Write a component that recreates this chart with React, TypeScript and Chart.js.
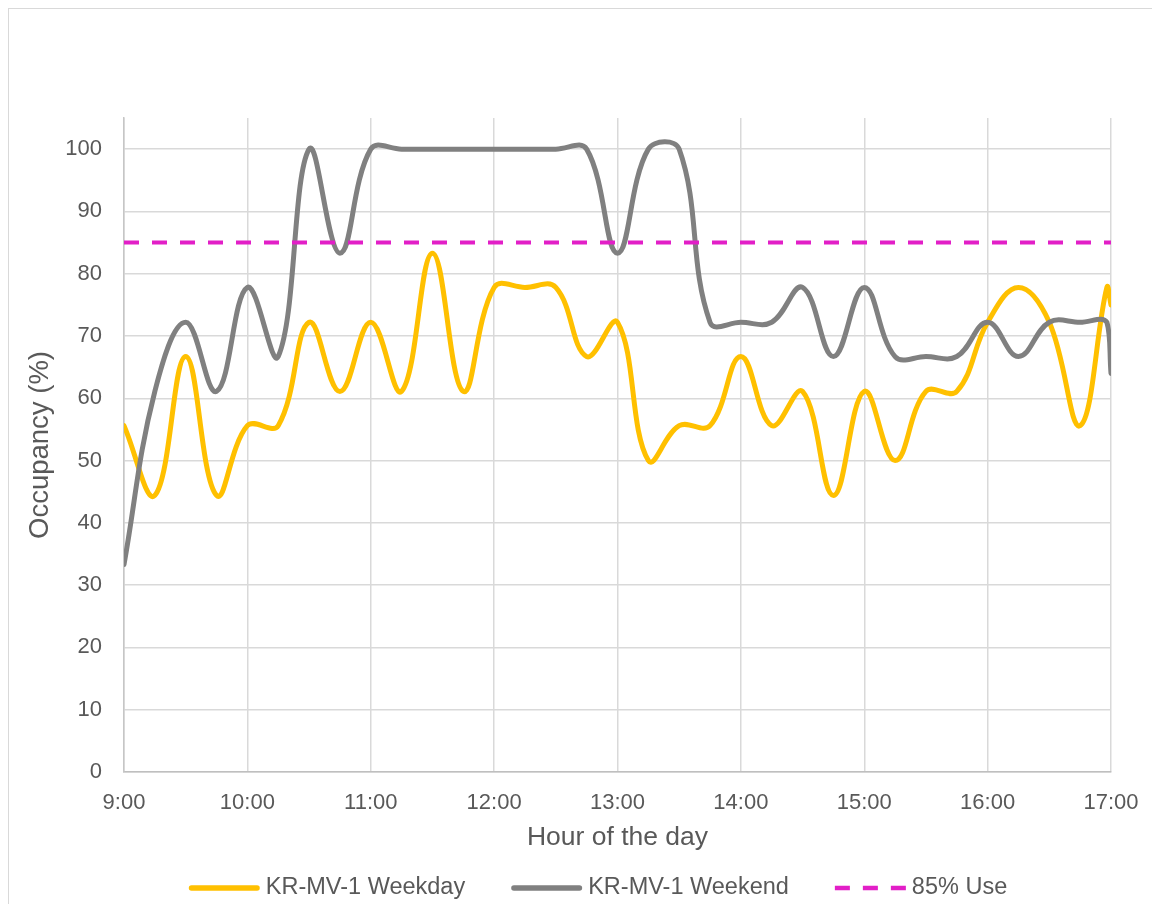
import React, { useEffect, useRef } from 'react';
import { Chart, registerables } from 'chart.js';

Chart.register(...registerables);

// ---- data ----
const TIMES = [
  '9:00', '9:15', '9:30', '9:45', '10:00', '10:15', '10:30', '10:45',
  '11:00', '11:15', '11:30', '11:45', '12:00', '12:15', '12:30', '12:45',
  '13:00', '13:15', '13:30', '13:45', '14:00', '14:15', '14:30', '14:45',
  '15:00', '15:15', '15:30', '15:45', '16:00', '16:15', '16:30', '16:45',
  '16:58', '17:00',
];
const WEEKDAY = [
  55.6, 44.4, 66.7, 44.4, 55.6, 55.6, 72.2, 61.1,
  72.2, 61.1, 83.3, 61.1, 77.8, 77.8, 77.8, 66.7,
  72.2, 50.0, 55.6, 55.6, 66.7, 55.6, 61.1, 44.4,
  61.1, 50.0, 61.1, 61.1, 72.2, 77.8, 72.2, 55.6,
  77.8, 75.0,
];
const WEEKEND = [
  33.3, 61.1, 72.2, 61.1, 77.8, 66.7, 100, 83.3,
  100, 100, 100, 100, 100, 100, 100, 100,
  83.3, 100, 100, 72.2, 72.2, 72.2, 77.8, 66.7,
  77.8, 66.7, 66.7, 66.7, 72.2, 66.7, 72.2, 72.2,
  72.2, 64.0,
];
const THRESHOLD_TIMES = ['9:00', '17:00'];
const THRESHOLD = [85, 85];
const X_TICK_LABELS = ['9:00', '10:00', '11:00', '12:00', '13:00', '14:00', '15:00', '16:00', '17:00'];
const SERIES_LABELS = ['KR-MV-1 Weekday', 'KR-MV-1 Weekend', '85% Use'];
const X_TITLE = 'Hour of the day';
const Y_TITLE = 'Occupancy (%)';

const toHours = (t: string) => {
  const [h, m] = t.split(':').map(Number);
  return h + m / 60;
};

const FONT = '"Liberation Sans", Arial, Helvetica, sans-serif';
const TEXT = '#595959';
const GRID = '#d9d9d9';

const legendPlugin = {
  id: 'customLegend',
  afterDraw(chart: any) {
    const ctx = chart.ctx as CanvasRenderingContext2D;
    const fontSize = 23.5;
    const lineLen = 71;
    const gap = 6;
    const spacing = 46;
    const cy = 888;
    ctx.save();
    ctx.font = `${fontSize}px ${FONT}`;
    const items = chart.data.datasets.map((ds: any) => ({
      label: ds.label as string,
      color: ds.borderColor as string,
      dash: (ds.borderDash || []) as number[],
      width: ds.legendWidth as number,
      tw: ctx.measureText(ds.label).width,
    }));
    const total = items.reduce((s: number, it: any) => s + lineLen + gap + it.tw, 0) + spacing * (items.length - 1);
    let x = 598 - total / 2;
    for (const it of items) {
      ctx.beginPath();
      ctx.strokeStyle = it.color;
      ctx.lineWidth = it.width;
      if (it.dash.length) {
        ctx.setLineDash(it.dash);
        ctx.lineCap = 'butt';
        ctx.moveTo(x, cy);
        ctx.lineTo(x + lineLen, cy);
      } else {
        ctx.setLineDash([]);
        ctx.lineCap = 'round';
        ctx.moveTo(x + it.width / 2, cy);
        ctx.lineTo(x + lineLen - it.width / 2, cy);
      }
      ctx.stroke();
      ctx.setLineDash([]);
      ctx.fillStyle = TEXT;
      ctx.textAlign = 'left';
      ctx.textBaseline = 'middle';
      ctx.fillText(it.label, x + lineLen + gap, cy);
      x += lineLen + gap + it.tw + spacing;
    }
    ctx.restore();
  },
};

export default function App() {
  const canvasRef = useRef<HTMLCanvasElement | null>(null);

  useEffect(() => {
    const canvas = canvasRef.current;
    if (!canvas) return;
    const weekdayPts = TIMES.map((t, i) => ({ x: toHours(t), y: WEEKDAY[i] }));
    const weekendPts = TIMES.map((t, i) => ({ x: toHours(t), y: WEEKEND[i] }));
    const thresholdPts = THRESHOLD_TIMES.map((t, i) => ({ x: toHours(t), y: THRESHOLD[i] }));

    const chart = new Chart(canvas, {
      type: 'line',
      data: {
        datasets: [
          {
            label: SERIES_LABELS[0],
            data: weekdayPts,
            borderColor: '#FFC000',
            backgroundColor: '#FFC000',
            borderWidth: 5,
            tension: 0.4,
            pointRadius: 0,
            borderCapStyle: 'round',
            borderJoinStyle: 'round',
            order: 3,
            legendWidth: 5.5,
          } as any,
          {
            label: SERIES_LABELS[1],
            data: weekendPts,
            borderColor: '#808080',
            backgroundColor: '#808080',
            borderWidth: 5,
            tension: 0.4,
            pointRadius: 0,
            borderCapStyle: 'round',
            borderJoinStyle: 'round',
            order: 2,
            legendWidth: 5.5,
          } as any,
          {
            label: SERIES_LABELS[2],
            data: thresholdPts,
            borderColor: '#E21FC7',
            backgroundColor: '#E21FC7',
            borderWidth: 4,
            borderDash: [15, 13],
            tension: 0,
            pointRadius: 0,
            order: 1,
            legendWidth: 4.3,
          } as any,
        ],
      },
      options: {
        animation: false,
        responsive: false,
        maintainAspectRatio: false,
        layout: { padding: { left: 0, right: 41, top: 118, bottom: 0 } },
        plugins: {
          legend: { display: false },
          tooltip: { enabled: false },
        },
        scales: {
          x: {
            type: 'linear',
            min: 9,
            max: 17,
            afterFit: (scale: any) => {
              scale.height = 132;
              scale.paddingLeft = 0;
              scale.paddingRight = 0;
            },
            ticks: {
              stepSize: 1,
              maxRotation: 0,
              autoSkip: false,
              padding: 18,
              color: TEXT,
              font: { family: FONT, size: 22 },
              callback: (_v: any, i: number) => X_TICK_LABELS[i],
            },
            grid: { color: GRID, lineWidth: 1.5, drawTicks: false },
            border: { display: true, color: '#bfbfbf', width: 1.5 },
            title: {
              display: true,
              text: X_TITLE,
              color: TEXT,
              font: { family: FONT, size: 26.5 },
              padding: { top: 0, bottom: 50 },
            },
          },
          y: {
            min: 0,
            max: 105,
            afterFit: (scale: any) => {
              scale.width = 124;
            },
            ticks: {
              stepSize: 10,
              includeBounds: false,
              padding: 22,
              color: TEXT,
              font: { family: FONT, size: 22 },
            },
            grid: { color: GRID, lineWidth: 1.5, drawTicks: false },
            border: { display: true, color: '#c6c6c6', width: 1.5 },
            title: {
              display: true,
              text: Y_TITLE,
              color: TEXT,
              font: { family: FONT, size: 27.5 },
              padding: { top: 24, bottom: 0 },
            },
          },
        },
      } as any,
      plugins: [legendPlugin],
    });
    return () => chart.destroy();
  }, []);

  return (
    <div style={{ position: 'fixed', left: 0, top: 0, width: 1152, height: 904, overflow: 'hidden', background: '#ffffff' }}>
      <div
        style={{
          position: 'absolute',
          left: 8,
          top: 8,
          width: 1300,
          height: 1000,
          border: '1px solid #d9d9d9',
          boxSizing: 'border-box',
        }}
      />
      <canvas
        ref={canvasRef}
        width={1152}
        height={904}
        style={{ position: 'absolute', left: 0, top: 0, width: 1152, height: 904, display: 'block' }}
      />
    </div>
  );
}
